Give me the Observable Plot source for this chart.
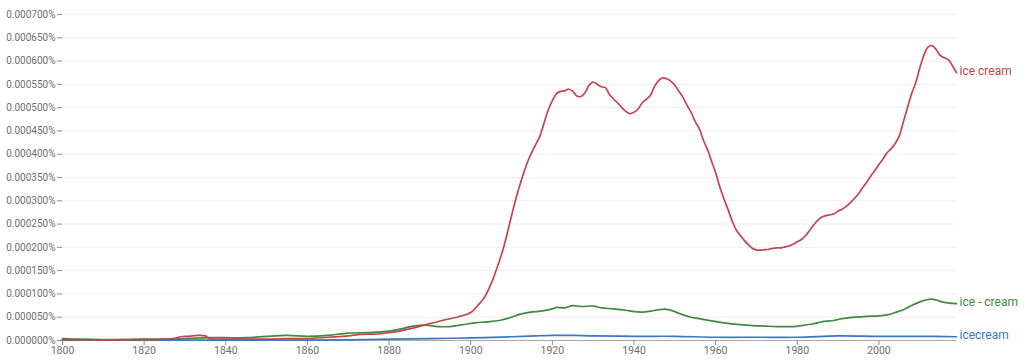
<!DOCTYPE html>
<html>
<head>
<meta charset="utf-8">
<script src="https://cdn.jsdelivr.net/npm/d3@7"></script>
<script src="https://cdn.jsdelivr.net/npm/@observablehq/plot@0.6"></script>
<style>
  html, body { margin: 0; padding: 0; background: #fff; }
  #chart { width: 1024px; height: 361px; }
</style>
</head>
<body>
<div id="chart"></div>
<script>
// Series names (labels at line ends)
const seriesNames = ["icecream", "ice - cream", "ice cream"];
const seriesColors = ["#3b78c4", "#3f8a3f", "#c9434c"];

// "ice cream" — [year, percent]
const iceCream = [
  [1800,0.000002],[1805,0.000002],[1810,0.000001],[1815,0.000002],[1820,0.000002],
  [1825,0.000003],[1827,0.000004],[1829,0.000008],[1831,0.000009],[1833,0.000011],
  [1835,0.000010],[1836,0.000004],[1840,0.000003],[1845,0.000003],[1850,0.000003],
  [1855,0.000004],[1860,0.000004],[1865,0.000007],[1870,0.000010],[1873,0.000013],
  [1877,0.000014],[1881,0.000018],[1885,0.000025],[1889,0.000034],[1893,0.000043],
  [1897,0.000051],[1900,0.000060],[1902,0.000078],[1903,0.000088],[1904,0.000103],
  [1905,0.000122],[1906,0.000145],[1907,0.000170],[1908,0.000198],[1909,0.000232],
  [1910,0.000268],[1911,0.000302],[1912,0.000333],[1913,0.000360],[1914,0.000385],
  [1915,0.000405],[1916,0.000422],[1917,0.000440],[1918,0.000468],[1919,0.000495],
  [1920,0.000515],[1921,0.000530],[1922,0.000535],[1923,0.000536],[1924,0.000540],
  [1925,0.000535],[1926,0.000525],[1927,0.000524],[1928,0.000532],[1929,0.000548],
  [1930,0.000555],[1931,0.000550],[1932,0.000545],[1933,0.000543],[1934,0.000528],
  [1935,0.000518],[1936,0.000510],[1937,0.000500],[1938,0.000492],[1939,0.000487],
  [1940,0.000490],[1941,0.000497],[1942,0.000510],[1943,0.000518],[1944,0.000526],
  [1945,0.000545],[1946,0.000558],[1947,0.000564],[1948,0.000562],[1949,0.000557],
  [1950,0.000548],[1951,0.000535],[1952,0.000522],[1953,0.000505],[1954,0.000490],
  [1955,0.000470],[1956,0.000455],[1957,0.000430],[1958,0.000410],[1959,0.000385],
  [1960,0.000360],[1961,0.000330],[1962,0.000305],[1963,0.000282],[1964,0.000258],
  [1965,0.000238],[1966,0.000226],[1967,0.000215],[1968,0.000206],[1969,0.000198],
  [1970,0.000194],[1971,0.000194],[1972,0.000195],[1973,0.000196],[1974,0.000198],
  [1975,0.000199],[1976,0.000199],[1977,0.000201],[1978,0.000203],[1979,0.000207],
  [1980,0.000212],[1981,0.000217],[1982,0.000225],[1983,0.000236],[1984,0.000248],
  [1985,0.000258],[1986,0.000265],[1987,0.000268],[1988,0.000270],[1989,0.000272],
  [1990,0.000278],[1991,0.000282],[1992,0.000288],[1993,0.000296],[1994,0.000305],
  [1995,0.000315],[1996,0.000328],[1997,0.000340],[1998,0.000353],[1999,0.000365],
  [2000,0.000378],[2001,0.000390],[2002,0.000403],[2003,0.000412],[2004,0.000423],
  [2005,0.000440],[2006,0.000470],[2007,0.000500],[2008,0.000530],[2009,0.000553],
  [2010,0.000585],[2011,0.000612],[2012,0.000630],[2013,0.000633],[2014,0.000625],
  [2015,0.000612],[2016,0.000607],[2017,0.000603],[2018,0.000590],[2019,0.000575]
];

// "ice - cream"
const iceDashCream = [
  [1800,0.000004],[1803,0.000003],[1810,0.000002],[1815,0.000002],[1820,0.000003],
  [1825,0.000003],[1830,0.000004],[1836,0.000006],[1840,0.000006],[1845,0.000006],
  [1850,0.000009],[1855,0.000011],[1860,0.000009],[1865,0.000011],[1870,0.000016],
  [1875,0.000017],[1880,0.000020],[1883,0.000025],[1886,0.000031],[1889,0.000033],
  [1892,0.000030],[1895,0.000030],[1898,0.000034],[1901,0.000038],[1904,0.000040],
  [1907,0.000043],[1910,0.000050],[1912,0.000056],[1914,0.000060],[1916,0.000062],
  [1918,0.000064],[1920,0.000068],[1921,0.000071],[1923,0.000070],[1925,0.000075],
  [1927,0.000073],[1930,0.000074],[1932,0.000070],[1935,0.000068],[1938,0.000065],
  [1940,0.000062],[1942,0.000061],[1944,0.000063],[1946,0.000066],[1948,0.000067],
  [1950,0.000062],[1952,0.000055],[1954,0.000050],[1956,0.000047],[1959,0.000042],
  [1962,0.000038],[1966,0.000034],[1969,0.000032],[1972,0.000031],[1975,0.000030],
  [1979,0.000030],[1981,0.000032],[1984,0.000036],[1986,0.000040],[1989,0.000043],
  [1991,0.000047],[1994,0.000050],[1997,0.000052],[2000,0.000053],[2002,0.000055],
  [2004,0.000060],[2006,0.000066],[2008,0.000075],[2010,0.000083],[2012,0.000088],
  [2013,0.000089],[2014,0.000087],[2016,0.000082],[2019,0.000079]
];

// "icecream"
const icecream = [
  [1800,0.000001],[1820,0.000001],[1840,0.000001],[1860,0.000001],[1870,0.0000015],
  [1880,0.000003],[1890,0.000004],[1900,0.0000055],[1910,0.000008],[1916,0.000010],
  [1920,0.000011],[1925,0.000011],[1930,0.000010],[1940,0.000009],[1950,0.000009],
  [1960,0.000007],[1970,0.000007],[1980,0.000007],[1990,0.000010],[2000,0.000009],
  [2010,0.000009],[2019,0.000008]
];

const xTicks = [1800, 1820, 1840, 1860, 1880, 1900, 1920, 1940, 1960, 1980, 2000];
const yTicks = [0, 0.00005, 0.0001, 0.00015, 0.0002, 0.00025, 0.0003, 0.00035,
                0.0004, 0.00045, 0.0005, 0.00055, 0.0006, 0.00065, 0.0007];

const rows = [];
[icecream, iceDashCream, iceCream].forEach((s, i) => {
  s.forEach(([year, value]) => rows.push({series: seriesNames[i], year, value}));
});

const chart = Plot.plot({
  width: 1024,
  height: 361,
  marginLeft: 62,
  marginRight: 68,
  marginTop: 14,
  marginBottom: 21,
  style: {fontFamily: "Roboto, sans-serif", background: "#fff", overflow: "visible"},
  x: {domain: [1800, 2019]},
  y: {domain: [0, 0.0007]},
  color: {domain: seriesNames, range: seriesColors},
  marks: [
    Plot.gridY(yTicks, {stroke: "#eeeeee", strokeOpacity: 1}),
    Plot.axisY(yTicks, {
      tickFormat: d => d.toFixed(6) + "%",
      tickSize: 5, tickPadding: 2, fontSize: 10,
      stroke: "#8a8a8a", fill: "#6e6e6e", label: null
    }),
    Plot.ruleY([0], {stroke: "#a8a8a8", strokeWidth: 1}),
    Plot.axisX(xTicks, {
      tickFormat: d => String(d),
      tickSize: 5, tickPadding: 1, fontSize: 10.5,
      stroke: "#8a8a8a", fill: "#6e6e6e", label: null
    }),
    Plot.line(rows, {
      x: "year", y: "value", z: "series", stroke: "series",
      strokeWidth: 1.7, curve: "catmull-rom"
    }),
    Plot.text(rows, Plot.selectLast({
      x: "year", y: "value", z: "series", text: "series", fill: "series",
      textAnchor: "start", dx: 3, dy: -2, fontSize: 12
    }))
  ]
});
document.getElementById("chart").appendChild(chart);
</script>
</body>
</html>
